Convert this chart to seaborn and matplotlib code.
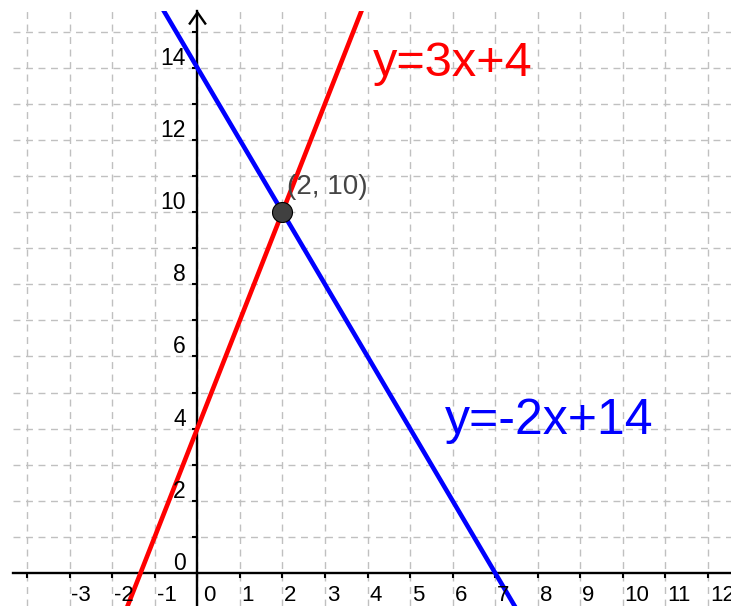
import matplotlib
matplotlib.use("Agg")
import matplotlib.pyplot as plt
from matplotlib.path import Path
import pandas as pd
import seaborn as sns

# Two straight lines, y = slope * x + intercept
line_names = ["y=3x+4", "y=-2x+14"]
slopes = [3, -2]
intercepts = [4, 14]
line_colors = ["#ff0000", "#0000ff"]

# Intersection point
point_x = [2]
point_y = [10]
point_text = "(2, 10)"

# Axis ticks and their labels
x_ticks = list(range(-4, 13))
x_label_values = list(range(-3, 13))
y_ticks = list(range(1, 16))
y_label_values = list(range(0, 15, 2))

X_VIEW = (-4.33, 12.54)
Y_VIEW = (-0.914, 15.57)
PX = 0.72  # points per pixel at dpi 100

sns.set_theme(style="white")
plt.rcParams["font.family"] = ["Liberation Sans", "DejaVu Sans"]

fig = plt.figure(figsize=(7.31, 6.06), dpi=100)
ax = fig.add_axes([13 / 731, 0, 718 / 731, 595 / 606])
ax.set_xlim(*X_VIEW)
ax.set_ylim(*Y_VIEW)

# Line endpoints across the visible window
rows = []
for name, m, b in zip(line_names, slopes, intercepts):
    for x in (X_VIEW[0] - 1, X_VIEW[1] + 1):
        rows.append({"line": name, "x": x, "y": m * x + b})
lines_df = pd.DataFrame(rows)

sns.lineplot(data=lines_df, x="x", y="y", hue="line", hue_order=line_names,
             palette=line_colors, linewidth=3.3, sort=False, legend=False,
             ax=ax, zorder=3)

sns.scatterplot(x=point_x, y=point_y, s=(20 * PX) ** 2, color="#404040",
                edgecolor="black", linewidth=0.8, ax=ax, zorder=5)

# Dashed coordinate grid
ax.set_xticks(x_ticks)
ax.set_yticks(y_ticks)
ax.grid(True, color="#c0c0c0", linestyle=(0, (5, 4)), linewidth=1.0)
ax.set_axisbelow(True)

# Axes through the origin
for side in ("top", "right"):
    ax.spines[side].set_visible(False)
for side in ("left", "bottom"):
    ax.spines[side].set_position(("data", 0))
    ax.spines[side].set_color("black")
    ax.spines[side].set_linewidth(1.7)
    ax.spines[side].set_zorder(2.5)
ax.tick_params(direction="out", length=5 * PX, width=1.5, color="black",
               labelbottom=False, labelleft=False, bottom=True, left=True)
ax.set_xlabel("")
ax.set_ylabel("")

# Open arrow head on top of the y axis
chevron = Path([(-0.7, -1.0), (0, 0), (0.7, -1.0)],
               [Path.MOVETO, Path.LINETO, Path.LINETO])
ax.plot([0], [Y_VIEW[1] - 0.03], marker=chevron, markersize=24 * PX,
        markerfacecolor="none", markeredgecolor="black", markeredgewidth=1.7,
        linestyle="none", clip_on=False, zorder=4)

# Tick labels, placed beside the ticks
for v in x_label_values:
    dx = 6 if v == 0 else 1.8
    ax.annotate(str(v), (v, 0), xytext=(dx * PX, -28 * PX),
                textcoords="offset points", ha="left", va="baseline",
                fontsize=16, color="black", annotation_clip=False)
for v in y_label_values:
    ax.annotate(str(v), (0, v), xytext=(-11.5 * PX, 3 * PX),
                textcoords="offset points", ha="right", va="baseline",
                fontsize=16.5, color="black")

# Intersection label
ax.annotate(point_text, (point_x[0], point_y[0]), xytext=(4.5 * PX, 18 * PX),
            textcoords="offset points", ha="left", va="baseline",
            fontsize=20, color="#444444", zorder=6)

# Equation labels
label_pos = [(4.13, 13.78), (5.82, 3.85)]
label_sizes = [35, 36]
for name, color, (lx, ly), fs in zip(line_names, line_colors, label_pos,
                                     label_sizes):
    ax.text(lx, ly, name, color=color, fontsize=fs, ha="left", va="baseline",
            zorder=6)

fig.savefig("out.png", dpi=100)
